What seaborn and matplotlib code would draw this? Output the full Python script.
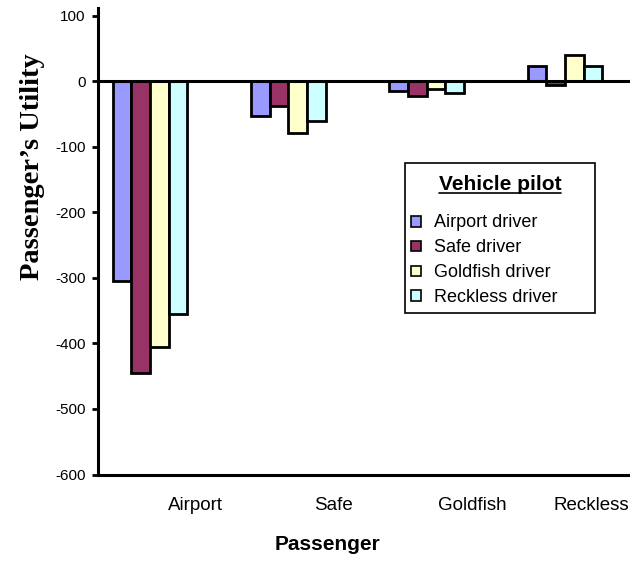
import matplotlib
matplotlib.use("Agg")
import matplotlib.pyplot as plt
from matplotlib.patches import Patch, Rectangle
from matplotlib.lines import Line2D
from matplotlib.transforms import ScaledTranslation
import seaborn as sns
import pandas as pd

# Passenger types (groups along x) and vehicle pilots (bars within each group)
passengers = ["Airport", "Safe", "Goldfish", "Reckless"]
pilots = ["Airport driver", "Safe driver", "Goldfish driver", "Reckless driver"]

# Passenger's utility for each pilot, listed in passenger order
airport_driver = [-305, -53, -14, 24]
safe_driver = [-445, -38, -22, -6]
goldfish_driver = [-405, -79, -11, 40]
reckless_driver = [-355, -61, -17, 24]

pilot_colors = ["#9999FF", "#993366", "#FFFFCC", "#CCFFFF"]
y_ticks = [100, 0, -100, -200, -300, -400, -500, -600]

series = [airport_driver, safe_driver, goldfish_driver, reckless_driver]
rows = []
for pilot, vals in zip(pilots, series):
    for passenger, v in zip(passengers, vals):
        rows.append({"Passenger": passenger, "Pilot": pilot, "Utility": v})
df = pd.DataFrame(rows)

sns.set_style("white")
plt.rcParams["font.family"] = ["Liberation Sans", "DejaVu Sans"]
plt.rcParams.update({"text.color": "black", "axes.labelcolor": "black",
                     "xtick.color": "black", "ytick.color": "black"})

W, H = 630, 563
fig = plt.figure(figsize=(W / 100, H / 100), dpi=100)
ax_left, ax_right, ax_top, ax_bottom = 98, 630, 8, 474.5
ax = fig.add_axes([ax_left / W, 1 - ax_bottom / H,
                   (ax_right - ax_left) / W, (ax_bottom - ax_top) / H])

sns.barplot(data=df, x="Passenger", y="Utility", hue="Pilot",
            order=passengers, hue_order=pilots, palette=pilot_colors,
            width=0.54, edgecolor="black", linewidth=2.0, saturation=1,
            errorbar=None, legend=False, ax=ax, zorder=3)

# Zero line acting as the category axis
ax.axhline(0, color="black", lw=2.2, zorder=4)

ax.set_ylim(-600, 112)
ax.set_xlim(-0.376, 3.47)
ax.set_yticks(y_ticks)
ax.set_yticklabels([str(t) for t in y_ticks], fontsize=11)

# Category labels sit to the right of their bar groups
label_offset = 0.33
ax.set_xticks([i + label_offset for i in range(len(passengers))])
ax.set_xticklabels(passengers, fontsize=13.5)
ax.tick_params(axis="x", length=0, pad=16, labelcolor="black")
ax.tick_params(axis="y", direction="out", length=4, width=2, pad=5, left=True,
               color="black", labelcolor="black")

for side in ["top", "right"]:
    ax.spines[side].set_visible(False)
for side in ["left", "bottom"]:
    ax.spines[side].set_linewidth(2.2)
    ax.spines[side].set_color("black")

ax.set_xlabel("Passenger", fontsize=15, fontweight="bold", color="black")
ax.xaxis.set_label_coords((328 - ax_left) / (ax_right - ax_left),
                          (ax_bottom - 545) / (ax_bottom - ax_top))
ax.xaxis.label.set_va("center")
ax.set_ylabel("Passenger\u2019s Utility", fontsize=20.5, fontweight="bold",
              family=["Liberation Serif", "DejaVu Serif"], color="black")
ax.yaxis.set_label_coords((33 - ax_left) / (ax_right - ax_left),
                          (ax_bottom - 167) / (ax_bottom - ax_top))
ax.yaxis.label.set_va("center")

# Legend box (drawn inside the axes so the legend sits on top of it)
lx0, ly0, lx1, ly1 = 405, 163, 595, 313
box = Rectangle((lx0 / W, 1 - ly1 / H), (lx1 - lx0) / W, (ly1 - ly0) / H,
                transform=fig.transFigure, facecolor="white",
                edgecolor="black", linewidth=1.2, zorder=9, clip_on=False)
ax.add_artist(box)

handles = [Patch(facecolor=c, edgecolor="black", linewidth=1.2) for c in pilot_colors]
leg = ax.legend(handles, pilots, loc="upper left",
                bbox_to_anchor=(lx0 / W, 1 - (ly0 + 6) / H, (lx1 - lx0) / W, 0),
                bbox_transform=fig.transFigure, mode="expand",
                title="Vehicle pilot", title_fontproperties={"weight": "bold", "size": 15},
                fontsize=13, handlelength=0.55, handleheight=0.55, handletextpad=0.7,
                labelspacing=0.44, borderpad=0.35, borderaxespad=0,
                frameon=False, labelcolor="black")
leg.get_title().set_color("black")
leg.set_zorder(10)
# extra room between the legend title and the entries
leg._legend_box.sep = 14.5

fig.canvas.draw()
renderer = fig.canvas.get_renderer()
inv = fig.transFigure.inverted()

# Underline the legend title
tb = leg.get_title().get_window_extent(renderer)
(x0, y0), (x1, _) = inv.transform([(tb.x0, tb.y0 + 1), (tb.x1, tb.y0 + 1)])
fig.add_artist(Line2D([x0, x1], [y0, y0], transform=fig.transFigure,
                      color="black", lw=1.2, zorder=11))

# Keep the last category label inside the figure
last = ax.get_xticklabels()[-1]
lb = last.get_window_extent(renderer)
overflow = lb.x1 - (fig.bbox.width - 1)
if overflow > 0:
    last.set_transform(last.get_transform() +
                       ScaledTranslation(-overflow / fig.dpi, 0, fig.dpi_scale_trans))

fig.savefig("out.png", dpi=100)
